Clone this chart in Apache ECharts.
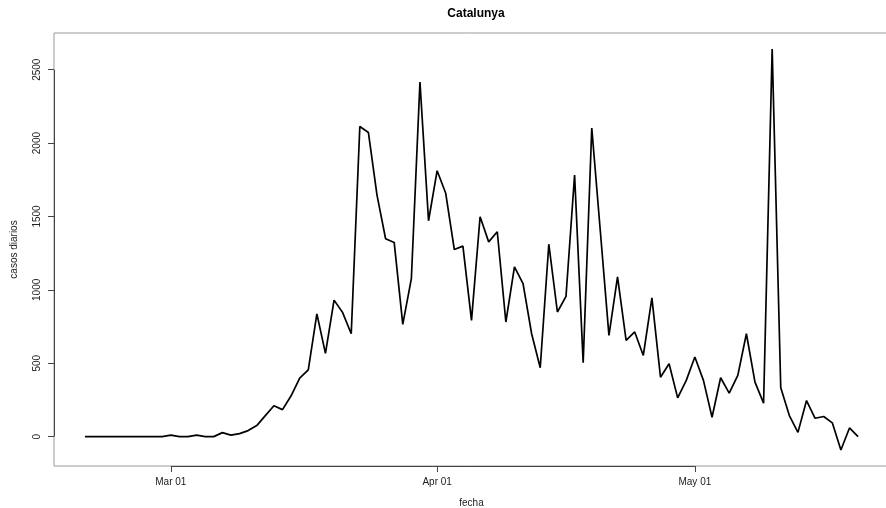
<!DOCTYPE html>
<html>
<head>
<meta charset="utf-8">
<title>Catalunya</title>
<script src="https://cdn.jsdelivr.net/npm/echarts@6/dist/echarts.min.js"></script>
<style>
  html, body { margin: 0; padding: 0; background: #fff; }
  #chart { width: 886px; height: 508px; }
</style>
</head>
<body>
<div id="chart"></div>
<script>
// daily cases, one value per day starting 2020-02-20
var startDay = [2020, 1, 20]
var casos = [
  0, 0, 0, 0, 0, 0, 0, 0, 0, 0,
  10, 0, 0, 10, 0, 0, 27, 10, 20, 41,
  75, 143, 210, 184, 278, 398, 455, 836, 567, 930,
  845, 701, 2113, 2072, 1646, 1348, 1323, 765, 1077, 2416,
  1471, 1812, 1658, 1275, 1298, 792, 1498, 1327, 1396, 781,
  1157, 1043, 701, 469, 1311, 849, 956, 1783, 503, 2103,
  1398, 690, 1088, 656, 713, 553, 945, 405, 497, 264,
  383, 542, 383, 132, 401, 296, 417, 701, 371, 228,
  2641, 333, 143, 29, 246, 125, 137, 94, -91, 59,
  0
]
var xTickDates = [[2020, 2, 1], [2020, 3, 1], [2020, 4, 1]]
var xTickLabels = ['Mar 01', 'Apr 01', 'May 01']
var yTicks = [0, 500, 1000, 1500, 2000, 2500]

var DAY = 24 * 3600 * 1000
function ts (d) { return Date.UTC(d[0], d[1], d[2]) }

// x is counted in days from the first date
var t0 = ts(startDay)
var serie = casos.map(function (v, i) { return [i, v] })
var xTicks = xTickDates.map(function (d) { return Math.round((ts(d) - t0) / DAY) })

// same 4% padding R puts round the data range
var nLast = casos.length - 1
var xPad = nLast * 0.04
var xMin = -xPad
var xMax = nLast + xPad
var yMinData = Math.min.apply(null, casos)
var yMaxData = Math.max.apply(null, casos)
var yPad = (yMaxData - yMinData) * 0.04
var yMin = yMinData - yPad
var yMax = yMaxData + yPad

var font = "'Liberation Sans', Arial, sans-serif"

var chart = echarts.init(document.getElementById('chart'))
chart.setOption({
  animation: false,
  backgroundColor: '#fff',
  textStyle: { fontFamily: font },
  title: {
    text: 'Catalunya',
    left: 471,
    top: 3,
    textAlign: 'center',
    textStyle: { fontSize: 12, fontWeight: 'bold', color: '#000', fontFamily: font }
  },
  grid: {
    left: 54,
    top: 33,
    width: 835,
    height: 433,
    outerBoundsMode: 'none',
    containLabel: false,
    show: true,
    borderColor: '#999',
    borderWidth: 1
  },
  xAxis: {
    type: 'value',
    min: xMin,
    max: xMax,
    name: 'fecha',
    nameLocation: 'middle',
    nameGap: 32,
    nameTextStyle: { fontSize: 10, color: '#222' },
    axisLine: { show: false, onZero: false },
    axisTick: {
      show: true,
      inside: false,
      length: 6,
      customValues: xTicks,
      lineStyle: { color: '#444' }
    },
    axisLabel: {
      customValues: xTicks,
      margin: 11,
      fontSize: 10,
      color: '#222',
      formatter: function (v) {
        var i = xTicks.indexOf(Math.round(v))
        return i >= 0 ? xTickLabels[i] : ''
      }
    },
    splitLine: { show: false }
  },
  yAxis: {
    type: 'value',
    min: yMin,
    max: yMax,
    name: 'casos diarios',
    nameLocation: 'middle',
    nameRotate: 90,
    nameGap: 35,
    nameTextStyle: { fontSize: 10, color: '#222' },
    axisLine: { show: false, onZero: false },
    axisTick: {
      show: true,
      inside: false,
      length: 6,
      customValues: yTicks,
      lineStyle: { color: '#444' }
    },
    axisLabel: {
      customValues: yTicks,
      rotate: 90,
      margin: 12,
      fontSize: 10,
      color: '#222',
      formatter: function (v) { return String(Math.round(v)) }
    },
    splitLine: { show: false }
  },
  series: [{
    type: 'line',
    data: serie,
    symbol: 'none',
    clip: false,
    lineStyle: { color: '#000', width: 1.7 },
    markLine: {
      silent: true,
      symbol: 'none',
      label: { show: false },
      lineStyle: { color: '#444', width: 1, type: 'solid' },
      data: [
        [{ coord: [xTicks[0], yMin] }, { coord: [xTicks[xTicks.length - 1], yMin] }],
        [{ coord: [xMin, yTicks[0]] }, { coord: [xMin, yTicks[yTicks.length - 1]] }]
      ]
    }
  }]
})
</script>
</body>
</html>
